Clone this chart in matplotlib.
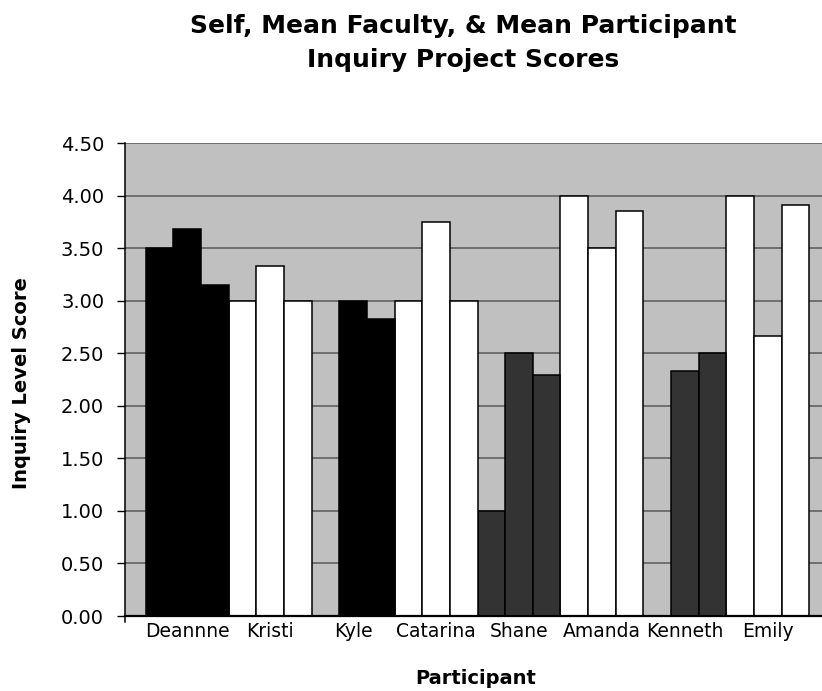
import numpy as np
import matplotlib
matplotlib.use("Agg")
import matplotlib.pyplot as plt

categories = ["Deannne", "Kristi", "Kyle", "Catarina", "Shane", "Amanda", "Kenneth", "Emily"]
self_scores = [3.50, 3.00, np.nan, 3.00, 1.00, 4.00, np.nan, 4.00]
faculty_means = [3.68, 3.33, 3.00, 3.75, 2.50, 3.50, 2.33, 2.67]
participant_means = [3.15, 3.00, 2.83, 3.00, 2.29, 3.86, 2.50, 3.91]
bar_colors = ["#000000", "#ffffff", "#000000", "#ffffff", "#333333", "#ffffff", "#333333", "#ffffff"]
y_ticks = [0.0, 0.5, 1.0, 1.5, 2.0, 2.5, 3.0, 3.5, 4.0, 4.5]

plt.rcParams['font.family'] = ['DejaVu Sans']

fig = plt.figure(figsize=(8.22, 6.91), dpi=100)
W, H = 822, 691
left, right, bottom, top = 125, 830, 616, 143.3
ax = fig.add_axes([left / W, 1 - bottom / H, (right - left) / W, (bottom - top) / H])
ax.set_facecolor("#c0c0c0")

n = len(categories)
series = [self_scores, faculty_means, participant_means]
for s, vals in enumerate(series):
    x = np.arange(n) * 3 + s
    v = np.nan_to_num(np.array(vals, dtype=float))
    ax.bar(x, v, width=1.0, color=bar_colors, edgecolor="black", linewidth=1.1, zorder=3)

ax.set_xlim(-1.25, 3 * n - 1 + 1.25)
ax.set_ylim(0, 4.5)
ax.set_yticks(y_ticks)
ax.set_yticklabels([f"{t:.2f}" for t in y_ticks], fontsize=14)
ax.set_xticks(np.arange(n) * 3 + 1)
ax.set_xticklabels(categories, fontsize=13.5)
ax.tick_params(axis="x", length=0, pad=4)
ax.tick_params(axis="y", length=6, width=1, direction="out", pad=9)

ax.yaxis.grid(True, color="#5a5a5a", linewidth=1.1, zorder=1)
ax.set_axisbelow(True)
for sp in ["top", "right"]:
    ax.spines[sp].set_visible(False)
ax.spines["left"].set_linewidth(1.1)
ax.spines["left"].set_bounds(-0.06, 4.5)
ax.spines["bottom"].set_linewidth(1.6)
ax.spines["bottom"].set_zorder(4)

fig.text(463 / W, 1 - 43 / H, "Self, Mean Faculty, & Mean Participant\nInquiry Project Scores",
         ha="center", va="center", fontsize=18, fontweight="bold", linespacing=1.55)
fig.text(22 / W, 1 - 383 / H, "Inquiry Level Score", rotation=90, ha="center", va="center",
         fontsize=14, fontweight="bold")
fig.text(476 / W, 1 - 679 / H, "Participant", ha="center", va="center",
         fontsize=14, fontweight="bold")

fig.savefig("out.png", dpi=100)
